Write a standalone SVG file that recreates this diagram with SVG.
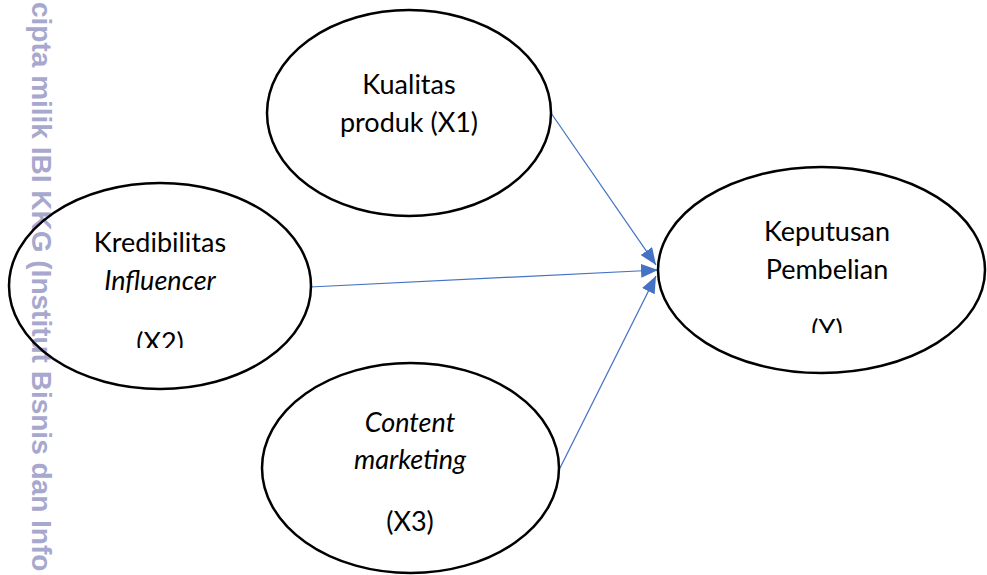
<svg xmlns="http://www.w3.org/2000/svg" width="987" height="575" viewBox="0 0 987 575">
  <style>
    .node { fill: none; stroke: #000; stroke-width: 2.5; }
    .lbl { font-family: Lato, "Liberation Sans", sans-serif; font-size: 27px; fill: #000; text-anchor: middle; }
    .it { font-style: italic; }
    .edge { stroke: #4472C4; stroke-width: 1.25; fill: none; marker-end: url(#arrow); }
    .mark { font-family: "Liberation Sans", Arial, sans-serif; font-weight: bold; font-size: 28px; fill: #a7a8ce; }
  </style>
  <defs>
    <marker id="arrow" markerUnits="userSpaceOnUse" markerWidth="17" markerHeight="14" refX="17" refY="7" orient="auto">
      <path d="M0,0 L17,7 L0,14 Z" fill="#4472C4"/>
    </marker>
    <clipPath id="clipX2"><rect x="0" y="0" width="987" height="348"/></clipPath>
    <clipPath id="clipY"><rect x="0" y="0" width="987" height="333"/></clipPath>
  </defs>

  <rect width="987" height="575" fill="#fff"/>

  <!-- side watermark -->
  <text class="mark" transform="translate(32,2) rotate(90)" x="0" y="0">cipta milik IBI KKG (Institut Bisnis dan Info</text>

  <g id="connectors">
    <line class="edge" x1="551" y1="113" x2="656" y2="265"/>
    <line class="edge" x1="310" y1="287" x2="658" y2="270"/>
    <line class="edge" x1="560" y1="468" x2="656" y2="276"/>
  </g>

  <g id="x1">
    <ellipse class="node" cx="409" cy="113" rx="142" ry="103"/>
    <text class="lbl" x="409" y="94">Kualitas</text>
    <text class="lbl" x="409" y="132">produk (X1)</text>
  </g>

  <g id="x2">
    <ellipse class="node" cx="160" cy="286" rx="151" ry="103"/>
    <text class="lbl" x="160" y="252">Kredibilitas</text>
    <text class="lbl it" x="160" y="290">Influencer</text>
    <text class="lbl" x="160" y="352" clip-path="url(#clipX2)">(X2)</text>
  </g>

  <g id="x3">
    <ellipse class="node" cx="410.5" cy="468" rx="148.5" ry="105"/>
    <text class="lbl it" x="410" y="432">Content</text>
    <text class="lbl it" x="410" y="469">marketing</text>
    <text class="lbl" x="410" y="531">(X3)</text>
  </g>

  <g id="y">
    <ellipse class="node" cx="821.5" cy="270" rx="163.5" ry="103"/>
    <text class="lbl" x="827" y="241">Keputusan</text>
    <text class="lbl" x="827" y="279">Pembelian</text>
    <text class="lbl" x="827" y="339" clip-path="url(#clipY)">(Y)</text>
  </g>
</svg>
